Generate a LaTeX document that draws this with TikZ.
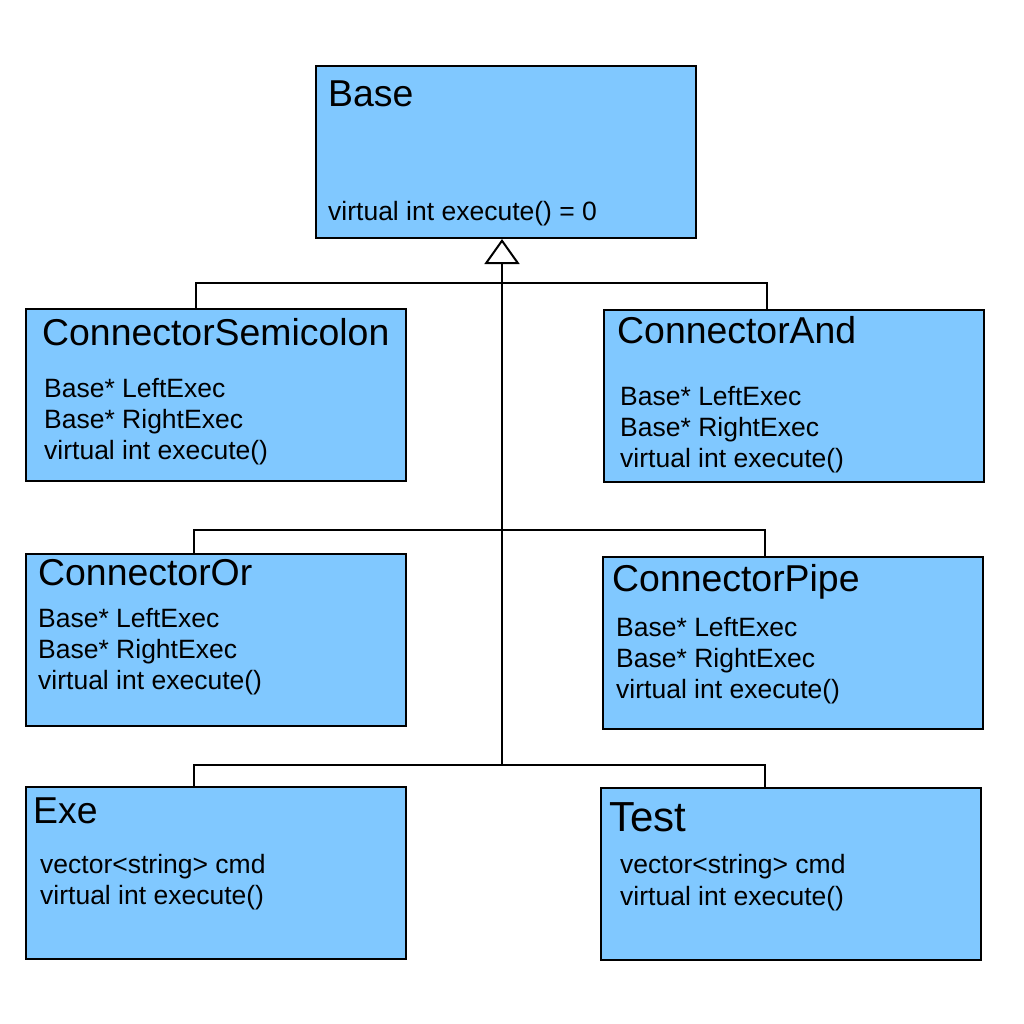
\documentclass[tikz,border=0pt]{standalone}
\usepackage{fontspec}
\setmainfont{Liberation Sans}
\usetikzlibrary{arrows.meta}
\definecolor{classblue}{RGB}{128,200,255}
\tikzset{
	classbox/.style={draw=black, line width=2pt, fill=classblue, anchor=north west, minimum width=380pt, minimum height=172pt, inner sep=0pt},
	classname/.style={anchor=base west, inner sep=0pt, font=\fontsize{37.4}{44}\selectfont},
	member/.style={anchor=base west, inner sep=0pt, font=\fontsize{26.5}{31}\selectfont},
	link/.style={line width=2pt},
}

\begin{document}
\begin{tikzpicture}[x=1pt, y=-1pt]
			%%%%% START %%%%%
			
			\useasboundingbox (0,0) rectangle (1024,1024);
			
			% base class
			\node[classbox] (base) at (315,65) {};
			\node[classname] (basename) at (328,107) {Base};
			\node[member] (basem1) at (328,221) {virtual int execute() = 0};
			
			% first row
			\node[classbox] (semi) at (25,308) {};
			\node[classname] (seminame) at (42,345) {ConnectorSemicolon};
			\node[member] (semim1) at (44,397) {Base* LeftExec};
			\node[member] (semim2) at (44,428) {Base* RightExec};
			\node[member] (semim3) at (44,459) {virtual int execute()};
			
			\node[classbox] (and) at (603,309) {};
			\node[classname] (andname) at (617,343) {ConnectorAnd};
			\node[member] (andm1) at (620,405) {Base* LeftExec};
			\node[member] (andm2) at (620,436) {Base* RightExec};
			\node[member] (andm3) at (620,467) {virtual int execute()};
			
			% second row
			\node[classbox] (or) at (25,553) {};
			\node[classname] (orname) at (38,585) {ConnectorOr};
			\node[member] (orm1) at (38,627) {Base* LeftExec};
			\node[member] (orm2) at (38,658) {Base* RightExec};
			\node[member] (orm3) at (38,689) {virtual int execute()};
			
			\node[classbox] (pipe) at (602,556) {};
			\node[classname] (pipename) at (612,591) {ConnectorPipe};
			\node[member] (pipem1) at (616,636) {Base* LeftExec};
			\node[member] (pipem2) at (616,667) {Base* RightExec};
			\node[member] (pipem3) at (616,698) {virtual int execute()};
			
			% third row
			\node[classbox] (exe) at (25,786) {};
			\node[classname] (exename) at (33,823) {Exe};
			\node[member] (exem1) at (40,873) {vector<string> cmd};
			\node[member] (exem2) at (40,904) {virtual int execute()};
			
			\node[classbox] (test) at (600,787) {};
			\node[classname, font=\fontsize{42}{48}\selectfont] (testname) at (609,831) {Test};
			\node[member] (testm1) at (620,873) {vector<string> cmd};
			\node[member] (testm2) at (620,905) {virtual int execute()};
			
			% inheritance tree
			\coordinate (j1) at (502,283);
			\coordinate (j2) at (502,530);
			\coordinate (j3) at (502,765);
			
			\draw[link, -{Triangle[open, fill=white, length=25pt, width=35pt, line width=2pt]}] (j3) -- (j3 |- base.south);
			\draw[link] ([xshift=-20pt]semi.north) |- (j1) -| ([xshift=-27pt]and.north);
			\draw[link] ([xshift=-22pt]or.north) |- (j2) -| ([xshift=-28pt]pipe.north);
			\draw[link] ([xshift=-22pt]exe.north) |- (j3) -| ([xshift=-26pt]test.north);
			
			%%%%% END %%%%%
\end{tikzpicture}
\end{document}
